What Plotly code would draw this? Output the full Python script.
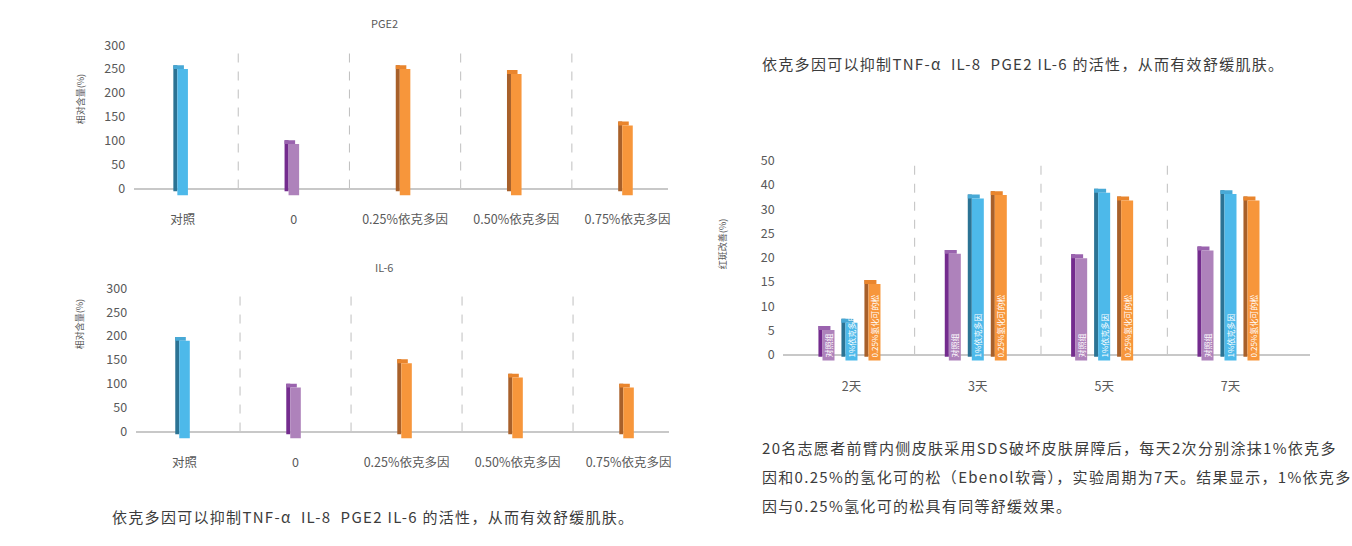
import plotly.graph_objects as go

W, H = 1352, 546
FONT = "Noto Sans CJK SC"
GREY = "#595959"

# ---------------- data ----------------
left_cats = ["对照", "0", "0.25%依克多因", "0.50%依克多因", "0.75%依克多因"]
pge2_vals = [250, 93, 250, 240, 132]
il6_vals = [190, 92, 143, 113, 92]
left_roles = ["ctrl", "zero", "drug", "drug", "drug"]
left_yticks = [0, 50, 100, 150, 200, 250, 300]

days = ["2天", "3天", "5天", "7天"]
series_names = ["对照组", "1%依克多因", "0.25%氢化可的松"]
ctrl_vals = [5.1, 20.8, 19.9, 21.5]
eck_vals = [6.6, 32.2, 33.4, 33.1]
hydro_vals = [14.6, 32.9, 31.8, 31.8]
right_tickvals = [0, 5, 10, 15, 20, 25, 30, 35, 40]
right_ticktext = ["0", "5", "10", "15", "20", "25", "30", "40", "50"]

title_pge2 = "PGE2"
title_il6 = "IL-6"
ytitle_left = "相对含量(%)"
ytitle_right = "红斑改善(%)"
note_text = "依克多因可以抑制TNF-α  IL-8  PGE2 IL-6 的活性，从而有效舒缓肌肤。"
para_lines = [
    "20名志愿者前臂内侧皮肤采用SDS破坏皮肤屏障后，每天2次分别涂抹1%依克多",
    "因和0.25%的氢化可的松（Ebenol软膏），实验周期为7天。结果显示，1%依克多",
    "因与0.25%氢化可的松具有同等舒缓效果。",
]

# ---------------- styles ----------------
PAL = {
    "blue":   dict(front="#4DB9EA", side="#2B7394", cap="#48A9D6"),
    "purple": dict(front="#AE82BB", side="#742C8E", cap="#9A63AE"),
    "orange": dict(front="#F7963B", side="#A8602A", cap="#E9852D"),
}
role_color = {"ctrl": "blue", "zero": "purple", "drug": "orange"}
series_color = ["purple", "blue", "orange"]


def px_x(p):
    return p / W


def px_y(p):
    return 1 - p / H


fig = go.Figure()


def add_3d(x, vals, cols, xa, ya, center, fw, sw, base, d, text=None):
    front = [PAL[c]["front"] for c in cols]
    side = [PAL[c]["side"] for c in cols]
    cap = [PAL[c]["cap"] for c in cols]
    # side face (darker, shifted left & up)
    fig.add_trace(go.Bar(
        x=x, y=[v - base for v in vals], base=base + d,
        offset=center - fw / 2 - sw, width=sw,
        marker=dict(color=side, line=dict(width=0)),
        xaxis=xa, yaxis=ya, hoverinfo="skip"))
    # top cap
    fig.add_trace(go.Bar(
        x=x, y=[d] * len(vals), base=vals,
        offset=center - fw / 2 - sw, width=fw,
        marker=dict(color=cap, line=dict(width=0)),
        xaxis=xa, yaxis=ya, hoverinfo="skip"))
    # front face
    kw = {}
    if text is not None:
        kw = dict(text=text, textposition="inside", insidetextanchor="start",
                  textangle=-90, constraintext="none",
                  textfont=dict(family=FONT, size=8, color="#FFFFFF"))
    fig.add_trace(go.Bar(
        x=x, y=[v - base for v in vals], base=base,
        offset=center - fw / 2, width=fw,
        marker=dict(color=front, line=dict(width=0)),
        xaxis=xa, yaxis=ya, hoverinfo="skip", **kw))


left_cols = [role_color[r] for r in left_roles]
add_3d(left_cats, pge2_vals, left_cols, "x", "y", 0.0, 0.095, 0.036, -14, 8.2)
add_3d(left_cats, il6_vals, left_cols, "x2", "y2", 0.0, 0.095, 0.036, -14, 8.2)

right_series = [ctrl_vals, eck_vals, hydro_vals]
for i, vals in enumerate(right_series):
    add_3d(days, vals, [series_color[i]] * len(days), "x3", "y3",
           (i - 1) * 0.182, 0.095, 0.032, -1.2, 0.8,
           text=[series_names[i]] * len(days))

tickfont = dict(family=FONT, size=12.5, color=GREY)
clear = "rgba(0,0,0,0)"


def xaxis(domain, rng, anchor):
    return dict(domain=domain, range=rng, type="category", anchor=anchor,
                showline=False, showgrid=False, zeroline=False,
                ticks="outside", ticklen=12, tickcolor=clear,
                tickfont=tickfont, fixedrange=True)


def yaxis(domain, rng, anchor, tickvals, ticktext=None):
    d = dict(domain=domain, range=rng, anchor=anchor, showline=False,
             showgrid=False, zeroline=True, zerolinecolor="#C8C8C8",
             zerolinewidth=1.5, tickvals=tickvals, ticks="outside",
             ticklen=5, tickcolor=clear, tickfont=tickfont, fixedrange=True)
    if ticktext is not None:
        d["ticktext"] = ticktext
    return d


fig.update_layout(
    xaxis=xaxis([px_x(134), px_x(669)], [-0.44, 4.36], "y"),
    yaxis=yaxis([px_y(189.3), px_y(35)], [-16, 300], "x", left_yticks),
    xaxis2=xaxis([px_x(136), px_x(670)], [-0.44, 4.36], "y2"),
    yaxis2=yaxis([px_y(437.8), px_y(283.5)], [-16, 300], "x2", left_yticks),
    xaxis3=xaxis([px_x(785), px_x(1313)], [-0.54, 3.63], "y3"),
    yaxis3=yaxis([px_y(359.4), px_y(153)], [-1.6, 40], "x3",
                 right_tickvals, right_ticktext),
)

shapes = []
for xr, yr, n, top in (("x", "y", len(left_cats), 300),
                       ("x2", "y2", len(left_cats), 300),
                       ("x3", "y3", len(days), 40)):
    for i in range(n - 1):
        shapes.append(dict(type="line", xref=xr, yref=yr, x0=i + 0.5, x1=i + 0.5,
                           y0=0, y1=top, layer="below",
                           line=dict(color="#BFBFBF", width=1, dash="dash")))

ann = []
small = dict(family=FONT, size=11, color=GREY)
ann.append(dict(text=title_pge2, x=px_x(370), y=px_y(12), xref="paper", yref="paper",
                yanchor="middle", showarrow=False, font=small))
ann.append(dict(text=title_il6, x=px_x(374), y=px_y(262), xref="paper", yref="paper",
                yanchor="middle", showarrow=False, font=small))
ax_t = dict(family=FONT, size=9, color=GREY)
ann.append(dict(text=ytitle_left, x=px_x(72), y=px_y(90), xref="paper", yref="paper",
                yanchor="middle", showarrow=False, textangle=-90, font=ax_t))
ann.append(dict(text=ytitle_left, x=px_x(72), y=px_y(320), xref="paper", yref="paper",
                yanchor="middle", showarrow=False, textangle=-90, font=ax_t))
ann.append(dict(text=ytitle_right, x=px_x(724), y=px_y(238), xref="paper", yref="paper",
                yanchor="middle", showarrow=False, textangle=-90, font=ax_t))

body = dict(family=FONT, size=15, color="#3C3C3C")


def spaced(t, ls):
    return '<span style="letter-spacing:%.2fpx">%s</span>' % (ls, t)


ann.append(dict(text=spaced(note_text, 1.3), x=px_x(110), y=px_y(517), xref="paper",
                yref="paper", xanchor="left", yanchor="middle", showarrow=False,
                font=body))
ann.append(dict(text=spaced(note_text, 1.3), x=px_x(762), y=px_y(54), xref="paper",
                yref="paper", xanchor="left", yanchor="middle", showarrow=False,
                font=body))
for k, line in enumerate(para_lines):
    ann.append(dict(text=spaced(line, 1.3), x=px_x(762), y=px_y(446 + 30 * k),
                    xref="paper", yref="paper", xanchor="left", yanchor="middle",
                    showarrow=False, font=body))

fig.update_layout(
    width=W, height=H, autosize=False,
    margin=dict(l=0, r=0, t=0, b=0),
    paper_bgcolor="white", plot_bgcolor="white",
    barmode="overlay", showlegend=False,
    font=dict(family=FONT, color=GREY),
    shapes=shapes, annotations=ann,
)

fig.write_html("out.html")
